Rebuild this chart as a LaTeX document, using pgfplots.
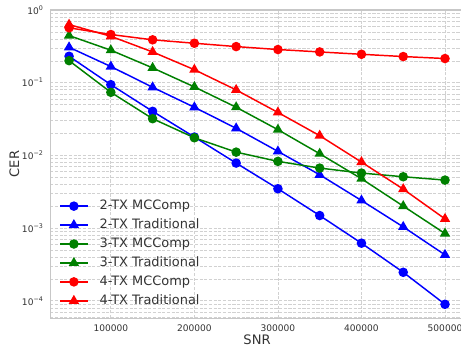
\documentclass[border=0pt]{standalone}
\usepackage{fontspec}
\setmainfont{DejaVu Sans}
\usepackage{pgfplots}
\pgfplotsset{compat=1.18}
\definecolor{mblue}{rgb}{0,0,1}
\definecolor{mgreen}{rgb}{0,0.5,0}
\definecolor{mred}{rgb}{1,0,0}
\definecolor{txt}{gray}{0.2}
\definecolor{spine}{gray}{0.78}
\definecolor{gridc}{gray}{0.82}
\begin{document}
\begin{tikzpicture}
\begin{axis}[
  name=ax,
  scale only axis, width=310.1pt, height=231pt,
  ymode=log,
  xmin=27500, xmax=522500, ymin=5.8e-5, ymax=1,
  scaled x ticks=false,
  xtick={100000,200000,300000,400000,500000},
  xticklabels={100000,200000,300000,400000,500000},
  ytick={1e-4,1e-3,1e-2,1e-1,1},
  yticklabels={10\textsuperscript{−4},10\textsuperscript{−3},10\textsuperscript{−2},10\textsuperscript{−1},10\textsuperscript{0}},
  minor ytick={2e-5,3e-5,4e-5,5e-5,6e-5,7e-5,8e-5,9e-5,2e-4,3e-4,4e-4,5e-4,6e-4,7e-4,8e-4,9e-4,2e-3,3e-3,4e-3,5e-3,6e-3,7e-3,8e-3,9e-3,2e-2,3e-2,4e-2,5e-2,6e-2,7e-2,8e-2,9e-2,2e-1,3e-1,4e-1,5e-1,6e-1,7e-1,8e-1,9e-1},
  major tick length=0pt, minor tick length=0pt,
  grid=both,
  major grid style={gridc, dashed, dash pattern=on 2.4pt off 1.1pt, line width=0.6pt},
  minor grid style={gridc, dashed, dash pattern=on 2.4pt off 1.1pt, line width=0.45pt},
  axis line style={spine, line width=0.8pt},
  tick label style={font=\fontsize{6.8}{8}\selectfont, text=txt},
  xticklabel style={yshift=-1.2pt},
  yticklabel style={xshift=-1.5pt},
  xlabel={SNR}, ylabel={CER},
  label style={font=\fontsize{9.8}{11}\selectfont, text=txt},
  xlabel style={at={(axis description cs:0.5,-0.0714)}, anchor=center},
  ylabel style={at={(axis description cs:-0.087,0.5)}, anchor=center},
  legend cell align=left,
  legend style={at={(axis description cs:0.012,0.020)}, anchor=south west,
    draw=none, fill=none,
    font=\fontsize{9.7}{11}\selectfont, text=txt, row sep=2pt,
    nodes={inner ysep=1pt, text height=7.9pt, text depth=2.3pt},
    /tikz/every odd column/.append style={column sep=6.5pt}},
  legend image code/.code={\draw[mark repeat=2,mark phase=2,#1] plot coordinates {(0cm,0cm) (0.36cm,0cm) (0.72cm,0cm)};},
  every axis plot/.append style={line width=1.1pt},
]
\addplot[mblue, mark=*, mark size=3pt] coordinates {
(50000,0.231) (100000,0.094) (150000,0.0404) (200000,0.0179) (250000,0.00785)
(300000,0.00348) (350000,0.00149) (400000,0.000621) (450000,0.000247) (500000,0.0000897)};
\addlegendentry{2-TX MCComp}
\addplot[mblue, mark=triangle*, mark size=3.4pt] coordinates {
(50000,0.307) (100000,0.167) (150000,0.0865) (200000,0.0459) (250000,0.0236)
(300000,0.01137) (350000,0.00542) (400000,0.0024) (450000,0.00104) (500000,0.000429)};
\addlegendentry{2-TX Traditional}
\addplot[mgreen, mark=*, mark size=3pt] coordinates {
(50000,0.201) (100000,0.0738) (150000,0.032) (200000,0.0175) (250000,0.0111)
(300000,0.00828) (350000,0.0067) (400000,0.00572) (450000,0.00509) (500000,0.00458)};
\addlegendentry{3-TX MCComp}
\addplot[mgreen, mark=triangle*, mark size=3.4pt] coordinates {
(50000,0.445) (100000,0.28) (150000,0.16) (200000,0.0875) (250000,0.046)
(300000,0.0226) (350000,0.01055) (400000,0.00478) (450000,0.00201) (500000,0.000843)};
\addlegendentry{3-TX Traditional}
\addplot[mred, mark=*, mark size=3pt] coordinates {
(50000,0.569) (100000,0.46) (150000,0.389) (200000,0.349) (250000,0.314)
(300000,0.286) (350000,0.265) (400000,0.246) (450000,0.229) (500000,0.215)};
\addlegendentry{4-TX MCComp}
\addplot[mred, mark=triangle*, mark size=3.4pt] coordinates {
(50000,0.63) (100000,0.435) (150000,0.265) (200000,0.151) (250000,0.0796)
(300000,0.039) (350000,0.0187) (400000,0.0081) (450000,0.00344) (500000,0.00134)};
\addlegendentry{4-TX Traditional}
\end{axis}
\pgfresetboundingbox
\useasboundingbox ([shift={(-37.7pt,-23.25pt)}]ax.south west) rectangle ([shift={(-2.1pt,7.5pt)}]ax.north east);
\end{tikzpicture}
\end{document}
